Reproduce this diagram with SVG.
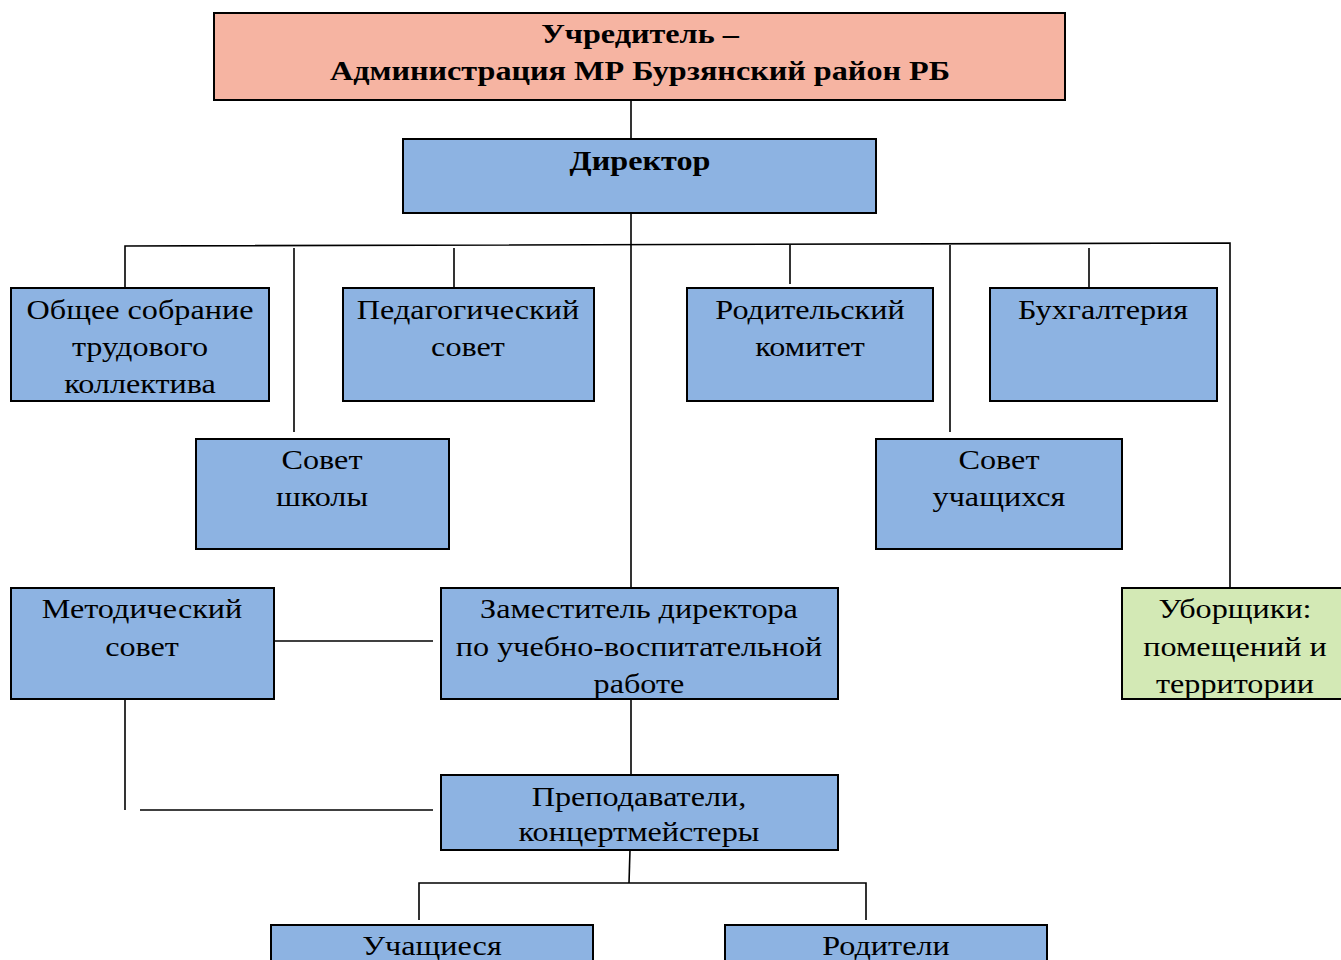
<svg xmlns="http://www.w3.org/2000/svg" width="1341" height="960" viewBox="0 0 1341 960">
<style>
.box{fill:#8DB3E2;stroke:#000;stroke-width:2}
.t{font-family:"Liberation Serif","Times New Roman",serif;font-size:28px;fill:#000;text-anchor:middle}
.b{font-weight:bold}
.c{stroke:#000;stroke-width:1.6;fill:none}
</style>
<rect width="1341" height="960" fill="#fff"/>
<g id="connectors">
<line class="c" x1="631" y1="100" x2="631" y2="139"/>
<line class="c" x1="631" y1="213" x2="631" y2="588"/>
<polyline class="c" points="125,288 125,246 1230,243 1230,588"/>
<line class="c" x1="294" y1="248" x2="294" y2="432"/>
<line class="c" x1="454" y1="248" x2="454" y2="288"/>
<line class="c" x1="790" y1="245" x2="790" y2="284"/>
<line class="c" x1="950" y1="245" x2="950" y2="432"/>
<line class="c" x1="1089" y1="248" x2="1089" y2="288"/>
<line class="c" x1="274" y1="641" x2="433" y2="641"/>
<line class="c" x1="125" y1="699" x2="125" y2="810"/>
<line class="c" x1="140" y1="810" x2="433" y2="810"/>
<line class="c" x1="631" y1="699" x2="631" y2="775"/>
<line class="c" x1="630" y1="850" x2="629" y2="883"/>
<polyline class="c" points="419,920 419,883 866,883 866,920"/>
</g>
<g id="founder"><rect x="214" y="13" width="851" height="87" fill="#F6B4A2" stroke="#000" stroke-width="2"/>
<text class="t b" transform="scale(1.15 1)" x="556.52" y="43">Учредитель –</text><text class="t b" transform="scale(1.15 1)" x="556.52" y="80">Администрация МР Бурзянский район РБ</text></g>
<g id="director"><rect class="box" x="403" y="139" width="473" height="74"/><text class="t b" transform="scale(1.15 1)" x="556.52" y="170">Директор</text></g>
<g id="general"><rect class="box" x="11" y="288" width="258" height="113"/><text class="t" transform="scale(1.15 1)" x="121.74" y="319">Общее собрание</text><text class="t" transform="scale(1.15 1)" x="121.74" y="356">трудового</text><text class="t" transform="scale(1.15 1)" x="121.74" y="393">коллектива</text></g>
<g id="pedsovet"><rect class="box" x="343" y="288" width="251" height="113"/><text class="t" transform="scale(1.15 1)" x="406.96" y="319">Педагогический</text><text class="t" transform="scale(1.15 1)" x="406.96" y="356">совет</text></g>
<g id="parents-committee"><rect class="box" x="687" y="288" width="246" height="113"/><text class="t" transform="scale(1.15 1)" x="704.35" y="319">Родительский</text><text class="t" transform="scale(1.15 1)" x="704.35" y="356">комитет</text></g>
<g id="accounting"><rect class="box" x="990" y="288" width="227" height="113"/><text class="t" transform="scale(1.15 1)" x="959.13" y="319">Бухгалтерия</text></g>
<g id="school-council"><rect class="box" x="196" y="439" width="253" height="110"/><text class="t" transform="scale(1.15 1)" x="280" y="469">Совет</text><text class="t" transform="scale(1.15 1)" x="280" y="506">школы</text></g>
<g id="student-council"><rect class="box" x="876" y="439" width="246" height="110"/><text class="t" transform="scale(1.15 1)" x="868.70" y="469">Совет</text><text class="t" transform="scale(1.15 1)" x="868.70" y="506">учащихся</text></g>
<g id="method"><rect class="box" x="11" y="588" width="263" height="111"/><text class="t" transform="scale(1.15 1)" x="123.48" y="618">Методический</text><text class="t" transform="scale(1.15 1)" x="123.48" y="656">совет</text></g>
<g id="deputy"><rect class="box" x="441" y="588" width="397" height="111"/><text class="t" transform="scale(1.15 1)" x="555.65" y="618">Заместитель директора</text><text class="t" transform="scale(1.15 1)" x="555.65" y="656">по учебно-воспитательной</text><text class="t" transform="scale(1.15 1)" x="555.65" y="693">работе</text></g>
<g id="cleaners"><rect x="1122" y="588" width="225" height="111" fill="#D3E9B5" stroke="#000" stroke-width="2"/><text class="t" transform="scale(1.15 1)" x="1073.91" y="618">Уборщики:</text><text class="t" transform="scale(1.15 1)" x="1073.91" y="656">помещений и</text><text class="t" transform="scale(1.15 1)" x="1073.91" y="693">территории</text></g>
<g id="teachers"><rect class="box" x="441" y="775" width="397" height="75"/><text class="t" transform="scale(1.15 1)" x="555.65" y="806">Преподаватели,</text><text class="t" transform="scale(1.15 1)" x="555.65" y="841">концертмейстеры</text></g>
<g id="students"><rect class="box" x="271" y="925" width="322" height="45"/><text class="t" transform="scale(1.15 1)" x="375.65" y="955">Учащиеся</text></g>
<g id="parents"><rect class="box" x="725" y="925" width="322" height="45"/><text class="t" transform="scale(1.15 1)" x="770.43" y="955">Родители</text></g>
</svg>
